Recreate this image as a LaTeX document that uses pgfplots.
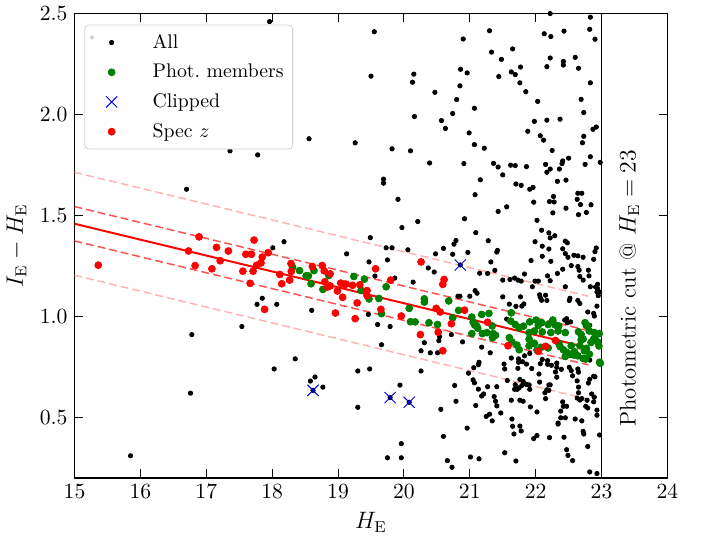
\documentclass[border=0pt]{standalone}
\usepackage{pgfplots}
\pgfplotsset{compat=1.18}
\definecolor{mplgreen}{RGB}{0,128,0}
\definecolor{dashred}{RGB}{255,80,80}
\definecolor{pinkred}{RGB}{255,180,180}
\pgfplotsset{
  wide legend/.style={legend image code/.code={%
    \path (0cm,0cm) (0.95cm,0cm);
    \draw[mark repeat=2,mark phase=2,##1] plot coordinates {(0cm,0cm) (0.3cm,0cm) (0.6cm,0cm)};}},
}
\begin{document}
\begin{tikzpicture}
\begin{axis}[
  scale only axis, width=300pt, height=235pt,
  xmin=15, xmax=24, ymin=0.2, ymax=2.5,
  xtick={15,16,...,24}, ytick={0.5,1.0,1.5,2.0,2.5},
  yticklabel style={/pgf/number format/.cd, fixed, fixed zerofill, precision=1},
  tick align=inside, major tick length=4.5pt,
  tick style={black, line width=0.5pt},
  axis line style={line width=0.75pt},
  xlabel={$H_\mathrm{E}$}, ylabel={$I_\mathrm{E}-H_\mathrm{E}$},
  tick label style={font=\fontsize{10.5}{12}\selectfont},
  label style={font=\fontsize{11.5}{13}\selectfont},
  legend style={at={(0.0167,0.976)}, anchor=north west, draw=black!18,
    rounded corners=2pt, fill=white, font=\fontsize{10}{12}\selectfont,
    row sep=2.5pt, inner sep=2.5pt},
  legend cell align=left,
]
% all sources
\addplot[only marks, mark=*, mark size=1.1pt, black,
  legend image code/.code={\path (0cm,0cm) (0.95cm,0cm); \fill[black!20] (-0.05cm,2.6pt) circle (0.9pt); \fill[black] (0.3cm,0) circle (1.1pt);}]
coordinates {
(15.85,0.31) (16.76,0.62) (16.78,0.91) (16.70,1.63) (17.54,0.95) (17.77,1.06) (17.85,1.09) (18.07,1.06)
(18.60,1.03) (18.01,1.34) (18.18,1.37) (17.36,1.82) (17.78,1.80) (17.96,2.46) (18.56,1.88) (18.03,0.74)
(18.35,0.79) (18.58,0.68) (18.65,0.70) (18.77,0.65) (19.30,0.73) (19.30,0.55) (19.55,2.41) (19.50,2.19)
(20.15,2.20) (20.13,2.16) (20.47,2.11) (20.16,1.99) (20.57,1.97) (19.26,1.86) (19.82,1.83) (20.10,1.82)
(20.39,1.76) (19.69,1.68) (19.69,1.66) (19.91,1.58) (20.21,1.47) (19.97,1.44) (19.49,1.39) (19.73,1.34)
(19.82,1.34) (20.06,1.33) (19.13,1.31) (19.47,1.27) (19.75,1.28) (20.48,1.31) (20.37,1.24) (20.46,1.22)
(19.56,1.20) (19.86,1.19) (20.14,1.17) (19.46,1.01) (19.60,0.96) (19.79,0.95) (20.54,0.90) (20.53,0.88)
(20.31,0.87) (20.40,0.82) (20.51,0.82) (20.26,0.83) (19.66,0.86) (19.48,0.74) (20.26,0.73) (19.94,0.66)
(20.56,0.54) (19.96,0.37) (19.75,0.30) (19.96,0.30)
(18.62,0.634) (19.79,0.598) (20.08,0.575) (20.855,1.255)
(20.89,0.874) (20.72,0.91) (21.18,0.848) (21.31,0.820) (21.14,0.773) (21.13,0.761) (21.06,0.746) (20.98,0.719)
(21.05,0.686) (21.07,0.671) (20.77,0.658) (20.79,0.58) (20.60,0.406) (20.66,0.286) (20.73,0.253) (20.96,0.447)
(21.01,0.304) (21.14,0.295) (21.09,0.559) (21.13,0.64) (21.18,0.606) (21.21,0.616) (21.27,0.652) (21.41,0.652)
(21.37,0.603) (21.39,0.58) (21.41,0.557) (21.25,0.505) (21.30,0.516) (21.34,0.483) (21.47,0.522) (21.53,0.325)
(21.70,0.284) (21.52,0.764) (21.53,0.74) (21.57,0.683) (21.63,0.794) (21.63,0.585) (21.64,0.492) (21.65,0.456)
(21.76,0.457) (21.78,0.433) (21.67,0.418) (21.69,0.662) (21.68,0.639) (21.72,0.639) (21.74,0.79) (21.74,0.773)
(21.80,0.776) (21.73,0.743) (21.76,0.688) (21.75,0.647) (21.79,0.658) (21.81,0.678) (21.76,0.585) (21.81,0.58)
(21.86,0.764) (21.86,0.663) (21.90,0.661) (21.91,0.639) (21.83,0.805) (21.91,0.817) (21.92,0.552) (21.97,0.395)
(22.02,0.41) (21.94,0.742) (22.02,0.527) (22.05,0.715) (22.06,0.675) (22.07,0.766) (22.10,0.787) (22.18,0.781)
(22.18,0.763) (22.14,0.622) (22.15,0.593) (22.20,0.661) (22.22,0.661) (22.24,0.758) (22.32,0.769) (22.32,0.748)
(22.17,0.637) (22.20,0.634) (22.30,0.725) (22.21,0.40) (22.34,0.472) (22.41,0.577) (22.42,0.555) (22.47,0.555)
(22.38,0.531) (22.38,0.498) (22.45,0.498) (22.34,0.467) (22.43,0.402) (22.47,0.34) (22.49,0.312) (22.56,0.286)
(22.60,0.492) (22.32,0.699) (22.39,0.738) (22.51,0.748) (22.54,0.732) (22.56,0.706) (22.63,0.681) (22.65,0.65)
(22.65,0.622) (22.63,0.596) (22.67,0.586) (22.70,0.593) (22.70,0.483) (22.72,0.431) (22.73,0.418) (22.79,0.356)
(22.76,0.555) (22.79,0.547) (22.78,0.585) (22.64,0.74) (22.65,0.724) (22.80,0.67) (22.82,0.689) (22.85,0.616)
(22.89,0.60) (22.88,0.577) (22.82,0.784) (22.88,0.704) (22.90,0.701) (22.93,0.511) (22.93,0.536) (22.97,0.413)
(22.82,0.23) (22.93,0.222)
(21.16,1.677) (21.50,1.701) (22.17,1.714) (21.08,1.603) (21.70,1.656) (21.78,1.649) (21.91,1.63) (21.96,1.639)
(22.33,1.669) (22.46,1.675) (22.64,1.61) (22.70,1.61) (22.63,1.58) (22.27,1.594) (22.21,1.569) (22.28,1.567)
(22.68,1.554) (22.84,1.553) (21.56,1.543) (21.43,1.52) (21.97,1.566) (22.46,1.536) (22.26,1.513) (22.65,1.504)
(22.77,1.515) (20.92,1.484) (22.02,1.476) (21.09,1.415) (22.09,1.427) (22.20,1.414) (22.29,1.40) (22.22,1.389)
(20.79,1.376) (20.76,1.358) (20.74,1.308) (20.60,1.337) (21.28,1.375) (21.99,1.37) (22.10,1.348) (21.42,1.327)
(21.41,1.319) (20.97,1.317) (22.20,1.334) (22.45,1.373) (22.48,1.365) (22.41,1.335) (22.45,1.311) (22.49,1.293)
(22.58,1.303) (22.64,1.30) (22.72,1.293) (22.92,1.339) (22.90,1.321) (22.88,1.283) (22.10,1.298) (21.93,1.277)
(22.23,1.273) (21.32,1.270) (21.38,1.228) (21.15,1.214) (21.27,1.213) (21.50,1.18) (21.61,1.183) (21.73,1.18)
(21.78,1.175) (21.83,1.21) (21.68,1.19) (21.99,1.175) (22.04,1.175) (21.95,1.147) (22.18,1.201) (22.22,1.177)
(22.33,1.213) (22.41,1.234) (22.54,1.252) (22.64,1.247) (22.66,1.229) (22.67,1.198) (22.72,1.18) (22.80,1.229)
(22.81,1.201) (22.45,1.147) (22.83,1.147) (22.91,1.146) (22.94,1.159) (22.94,1.138) (22.93,1.121) (22.97,1.121)
(22.95,1.103) (20.82,1.10) (20.85,1.10) (21.00,1.10) (21.08,1.128) (21.11,1.115) (21.50,1.097) (21.77,1.097)
(21.60,1.061) (21.70,1.05) (21.79,1.051) (21.82,1.062) (22.06,1.107) (22.07,1.094) (22.15,1.105) (22.09,1.08)
(22.17,1.079) (22.52,1.09) (22.51,1.079) (22.64,1.079) (22.67,1.064) (22.93,1.051) (22.79,1.022) (22.88,1.015)
(22.89,1.002) (22.47,0.989) (22.44,0.982) (22.48,0.969) (22.53,0.973) (22.76,0.951) (22.82,0.956) (21.56,0.987)
(22.22,2.50) (22.83,2.482) (21.30,2.415) (20.90,2.374) (22.13,2.40) (22.23,2.386) (22.43,2.413) (22.82,2.422)
(22.90,2.373) (21.33,2.309) (21.65,2.325) (21.48,2.273) (22.22,2.28) (22.42,2.263) (22.42,2.245) (22.60,2.283)
(22.17,2.237) (22.65,2.229) (20.86,2.224) (20.96,2.206) (21.44,2.188) (21.63,2.211) (21.69,2.198) (21.77,2.235)
(21.76,2.157) (20.85,2.142) (21.85,2.113) (22.83,2.157) (20.80,2.074) (22.03,2.065) (22.69,2.075) (20.74,2.005)
(21.07,2.031) (22.73,2.01) (21.98,1.966) (22.17,1.972) (22.37,1.977) (20.63,1.931) (20.99,1.909) (21.88,1.917)
(22.07,1.895) (22.12,1.873) (22.87,1.927) (22.92,1.938) (22.73,1.892) (22.71,1.86) (21.07,1.851) (21.22,1.833)
(22.25,1.822) (20.91,1.757) (21.36,1.758) (21.43,1.74) (21.62,1.749) (21.69,1.747) (21.86,1.742) (22.15,1.753)
(22.22,1.73) (22.36,1.73) (22.41,1.77) (22.40,1.757) (22.50,1.784) (22.83,1.791) (22.75,1.753) (22.98,1.763)
};
\addlegendentry{All}
% photometric members
\addplot[only marks, mark=*, mark size=1.75pt, mplgreen, wide legend] coordinates {
(18.31,1.244) (18.415,1.227) (18.515,1.201) (18.55,1.201) (18.59,1.162) (18.635,1.227) (18.77,1.134) (18.86,1.203)
(19.24,1.198) (19.40,1.185) (19.35,1.129) (19.47,1.087) (19.62,1.089) (19.66,1.014) (19.73,1.147) (20.08,1.04)
(20.10,0.974) (20.17,0.973) (20.31,1.087) (20.31,1.071) (20.38,0.969) (20.51,0.96) (20.68,1.077) (20.74,0.993)
(20.83,1.03) (21.03,0.997) (21.075,0.957) (21.05,0.972) (21.10,0.955) (21.12,0.942) (21.18,1.01) (21.29,1.015)
(21.19,0.915) (21.03,0.915) (21.26,0.92) (21.355,0.915) (21.39,0.907) (21.345,0.895) (21.34,0.953) (21.62,0.977)
(21.63,1.018) (21.69,0.96) (21.75,0.944) (21.815,0.952) (21.60,0.895) (21.64,0.874) (21.715,0.858) (21.75,0.835)
(21.90,0.92) (21.98,0.928) (22.10,0.923) (21.91,0.973) (22.005,0.982) (22.04,0.956) (21.90,0.887) (21.90,0.854)
(21.98,0.867) (22.02,0.833) (22.09,0.969) (22.19,0.96) (22.26,0.982) (22.23,0.92) (22.34,0.928) (22.45,0.92)
(22.295,0.958) (22.35,0.953) (22.08,0.847) (22.19,0.844) (22.37,0.851) (22.42,0.835) (22.47,0.822) (22.45,0.802)
(22.52,0.813) (22.59,0.825) (22.64,0.805) (22.72,0.792) (22.76,0.789) (22.74,0.83) (22.69,0.911) (22.69,0.884)
(22.89,0.92) (22.90,0.89) (22.94,0.874) (22.96,0.854) (22.965,0.915) (22.97,0.773) (22.815,0.813) (22.75,0.969)
(22.79,0.952) (22.815,0.928) (22.58,0.809) (22.54,0.855) (22.67,0.855) (22.77,0.842) (22.84,0.871) (22.88,0.888)
(22.98,0.768) (22.65,0.924) (22.72,0.888) (22.35,0.868)
};
\addlegendentry{Phot.\ members}
% clipped
\addplot[only marks, mark=x, mark size=4pt, blue, line width=0.5pt, wide legend] coordinates {
(18.62,0.634) (19.79,0.598) (20.08,0.575) (20.855,1.255)
};
\addlegendentry{Clipped}
% spectroscopic redshifts
\addplot[only marks, mark=*, mark size=1.75pt, red, wide legend] coordinates {
(15.36,1.254) (16.73,1.324) (16.89,1.394) (16.83,1.252) (17.155,1.342) (17.085,1.236) (17.21,1.276) (17.335,1.324)
(17.725,1.378) (17.60,1.308) (17.685,1.308) (17.85,1.294) (17.94,1.316) (17.765,1.254) (17.83,1.265) (17.555,1.224)
(17.71,1.224) (17.665,1.164) (17.885,1.035) (18.115,1.208) (18.145,1.162) (18.265,1.18) (18.285,1.262) (18.29,1.223)
(18.61,1.247) (18.76,1.252) (18.79,1.226) (18.88,1.211) (18.80,1.172) (18.84,1.146) (18.88,1.151) (18.99,1.126)
(18.96,1.017) (19.04,1.165) (19.09,1.16) (19.12,1.16) (19.22,1.154) (19.07,1.095) (19.26,0.989) (19.29,1.067)
(19.33,1.157) (19.44,1.128) (19.44,1.103) (19.57,1.236) (19.80,1.18) (19.65,1.035) (19.96,1.002) (20.26,1.27)
(20.25,0.91) (20.49,1.04) (20.55,1.022) (20.52,0.922) (20.59,0.83) (20.72,0.964) (20.61,1.183) (20.59,1.159)
(20.92,1.031) (21.27,0.971) (21.58,0.855) (22.04,0.827) (22.15,0.852) (22.30,0.881)
};
\addlegendentry{Spec $z$}
% fitted relation and scatter bands
\addplot[red, line width=1pt, forget plot] coordinates {(15,1.459) (22.8,0.845)};
\addplot[dashred, line width=0.75pt, dash pattern=on 4pt off 2pt, forget plot] coordinates {(15,1.544) (22.8,0.930)};
\addplot[dashred, line width=0.75pt, dash pattern=on 4pt off 2pt, forget plot] coordinates {(15,1.374) (22.8,0.760)};
\addplot[pinkred, line width=0.75pt, dash pattern=on 4pt off 2pt, forget plot] coordinates {(15,1.714) (22.8,1.100)};
\addplot[pinkred, line width=0.75pt, dash pattern=on 4pt off 2pt, forget plot] coordinates {(15,1.204) (22.8,0.590)};
% magnitude cut
\addplot[black, line width=0.75pt, forget plot] coordinates {(23,0.2) (23,2.5)};
\node[rotate=90, font=\fontsize{11.5}{13}\selectfont] at (axis cs:23.42,1.14) {Photometric cut @ $H_\mathrm{E}=23$};
\end{axis}
\path ([shift={(-33.5pt,-25pt)}]current axis.south west) rectangle ([shift={(18pt,5.5pt)}]current axis.north east);
\end{tikzpicture}
\end{document}
